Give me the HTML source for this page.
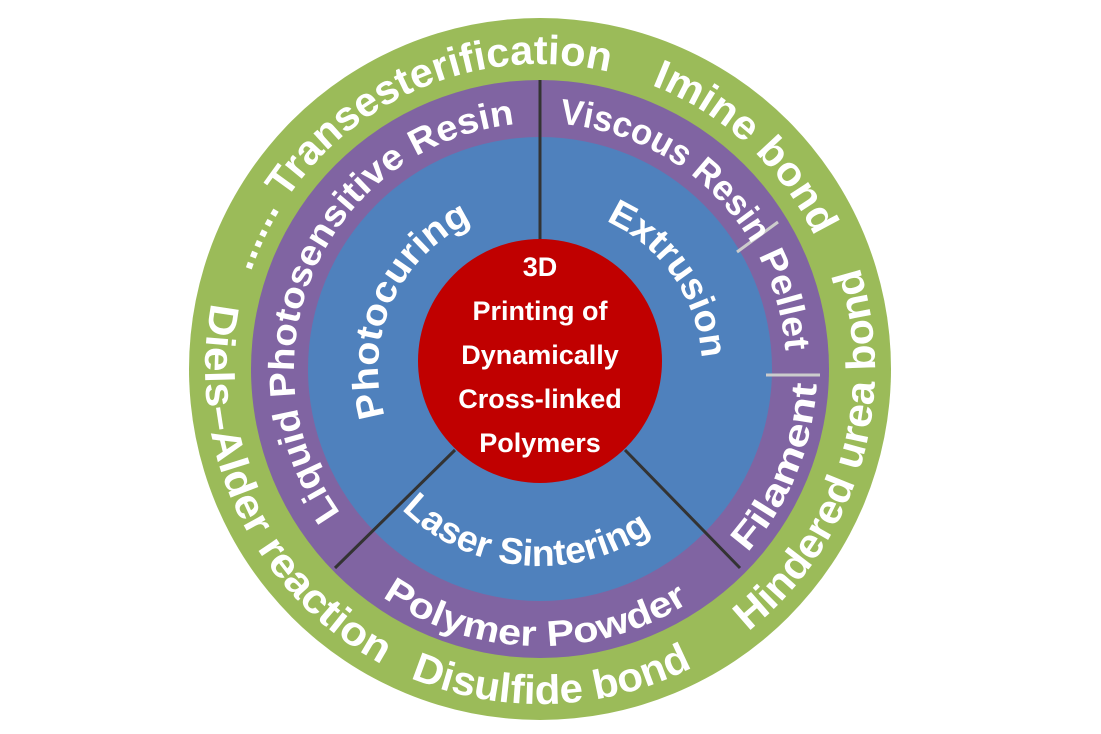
<!DOCTYPE html>
<html><head><meta charset="utf-8"><style>
html,body{margin:0;padding:0;background:#fff;}
svg{display:block}
text{font-family:"Liberation Sans",sans-serif;font-weight:bold;fill:#fff}
</style></head><body>
<svg width="1101" height="734" viewBox="0 0 1101 734" xmlns="http://www.w3.org/2000/svg">
<defs>
<path id="cw305" d="M540,674 A305,305 0 1 1 540,64 A305,305 0 1 1 540,674"/>
<path id="cw246" d="M540,615 A246,246 0 1 1 540,123 A246,246 0 1 1 540,615"/>
<path id="cw162" d="M540,531 A162,162 0 1 1 540,207 A162,162 0 1 1 540,531"/>
<path id="ccw335" d="M540,34 A335,335 0 1 0 540,704 A335,335 0 1 0 540,34"/>
<path id="ccw277" d="M540,92 A277,277 0 1 0 540,646 A277,277 0 1 0 540,92"/>
<path id="ccw197" d="M540,172 A197,197 0 1 0 540,566 A197,197 0 1 0 540,172"/>
</defs>
<circle cx="540" cy="369" r="351" fill="#9BBB59"/>
<circle cx="540" cy="369" r="289" fill="#8064A2"/>
<circle cx="540" cy="369" r="232" fill="#4F81BD"/>
<line x1="540" y1="80" x2="540" y2="250" stroke="#333" stroke-width="3"/>
<line x1="455" y1="450" x2="335" y2="568" stroke="#333" stroke-width="3"/>
<line x1="625" y1="450" x2="740" y2="568" stroke="#333" stroke-width="3"/>
<line x1="737" y1="252" x2="778" y2="222" stroke="#ccc" stroke-width="3"/>
<line x1="766" y1="375" x2="820" y2="375" stroke="#ccc" stroke-width="3"/>
<circle cx="540" cy="361" r="122" fill="#C00000"/>

<text font-size="41"><textPath href="#cw305" startOffset="41.9%" text-anchor="middle" textLength="450" lengthAdjust="spacingAndGlyphs">...... Transesterification</textPath></text>
<text font-size="41"><textPath href="#cw305" startOffset="61.9%" text-anchor="middle" textLength="228" lengthAdjust="spacingAndGlyphs">Imine bond</textPath></text>
<text font-size="41"><textPath href="#ccw335" startOffset="70.3%" text-anchor="middle" textLength="405" lengthAdjust="spacingAndGlyphs">Hindered urea bond</textPath></text>
<text font-size="41"><textPath href="#ccw335" startOffset="32%" text-anchor="middle" textLength="428" lengthAdjust="spacingAndGlyphs">Diels–Alder reaction</textPath></text>
<text font-size="41"><textPath href="#ccw335" startOffset="50.6%" text-anchor="middle" textLength="292" lengthAdjust="spacingAndGlyphs">Disulfide bond</textPath></text>

<text font-size="36"><textPath href="#cw246" startOffset="31.7%" text-anchor="middle" textLength="515" lengthAdjust="spacingAndGlyphs">Liquid Photosensitive Resin</textPath></text>
<text font-size="36"><textPath href="#cw246" startOffset="58.9%" text-anchor="middle" textLength="236" lengthAdjust="spacingAndGlyphs">Viscous Resin</textPath></text>
<text font-size="36"><textPath href="#cw246" startOffset="70.6%" text-anchor="middle" textLength="100" lengthAdjust="spacingAndGlyphs">Pellet</textPath></text>
<text font-size="36"><textPath href="#ccw277" startOffset="68.8%" text-anchor="middle" textLength="186" lengthAdjust="spacingAndGlyphs">Filament</textPath></text>
<text font-size="36"><textPath href="#ccw277" startOffset="49.7%" text-anchor="middle" textLength="325" lengthAdjust="spacingAndGlyphs">Polymer Powder</textPath></text>

<text font-size="37"><textPath href="#cw162" startOffset="31.7%" text-anchor="middle" textLength="232" lengthAdjust="spacingAndGlyphs">Photocuring</textPath></text>
<text font-size="37"><textPath href="#cw162" startOffset="65.3%" text-anchor="middle" textLength="176" lengthAdjust="spacingAndGlyphs">Extrusion</textPath></text>
<text font-size="37"><textPath href="#ccw197" startOffset="48.6%" text-anchor="middle" textLength="272" lengthAdjust="spacingAndGlyphs">Laser Sintering</textPath></text>

<g font-size="27" text-anchor="middle">
<text x="540" y="276">3D</text>
<text x="540" y="320">Printing of</text>
<text x="540" y="364">Dynamically</text>
<text x="540" y="408">Cross-linked</text>
<text x="540" y="452">Polymers</text>
</g>
</svg>
</body></html>
